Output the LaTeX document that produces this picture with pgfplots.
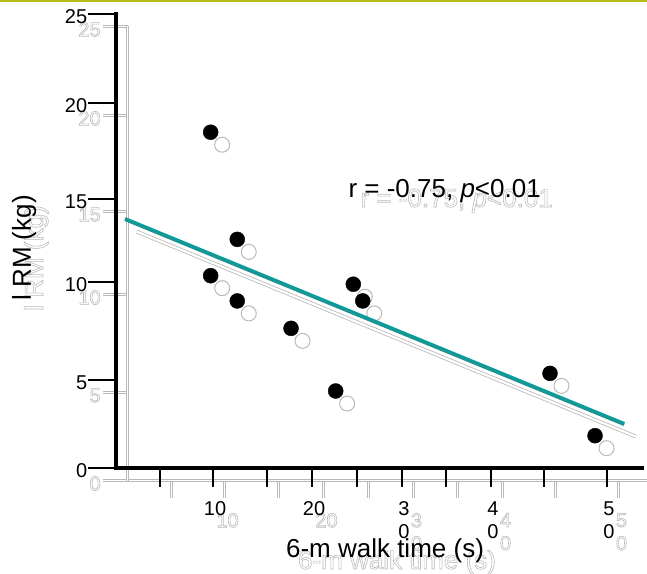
\documentclass[border=0pt]{standalone}
\usepackage{pgfplots}
\pgfplotsset{compat=1.18}
\usepackage{fontspec}
\setmainfont{Liberation Sans}

\definecolor{shade}{RGB}{185,185,185}
\definecolor{fitline}{RGB}{18,152,150}
\definecolor{topbar}{RGB}{181,189,23}

% outlined (hollow) glyphs: PDF text render mode 1
\newcommand\hollowon{\special{pdf:literal direct 1 Tr 0.6 w}}
\newcommand\hollowoff{\special{pdf:literal direct 0 Tr}}
\newcommand\hollow[1]{\hollowon#1\hollowoff}

\pgfplotstableread{
x     y
9.61  18.49
12.31 12.59
9.61  10.59
12.31 9.20
17.77 7.69
24.09 10.12
25.05 9.20
22.30 4.24
44.06 5.21
48.63 1.78
}\walkdata

\pgfplotsset{
  walkaxis/.style={
    scale only axis, height=454pt,
    ymin=0, ymax=25,
    axis lines*=left,
    tick align=outside,
    xtick={4.47,9.85,15.33,19.90,24.47,29.04,33.50,38.07,43.45,49.85},
    xticklabels={,10,,20,,{3\\0},,{4\\0},,{5\\0}},
    ytick={0,4.85,10.24,14.81,20.10,25},
    yticklabels={0,5,10,15,20,25},
    ticklabel style={font=\fontsize{20}{23}\selectfont},
    xticklabel style={align=center},
    clip=false,
  }
}

\begin{document}
\begin{tikzpicture}[x=1pt,y=1pt]
\useasboundingbox (0,0) rectangle (647,573);
\draw[topbar, line width=2pt] (0,572) -- (647,572);

% offset outlined copy of the plot
\begin{axis}[walkaxis,
  at={(127.5pt,92.5pt)}, anchor=south west,
  width=519.5pt, xmin=0, xmax=52.74,
  axis line style={-, draw=shade, line width=0.9pt, double=white, double distance=1.8pt},
  xtick style={draw=shade, line width=0.6pt, double=white, double distance=1.2pt, /pgfplots/major tick length=17pt},
  ytick style={draw=shade, line width=0.6pt, double=white, double distance=1.2pt, /pgfplots/major tick length=25pt},
  ticklabel style={text=shade, execute at begin node=\hollowon, execute at end node=\hollowoff},
  yticklabel style={xshift=-19pt, yshift=-3pt},
  xticklabel style={yshift=-25pt, xshift=3pt},
]
\addplot[draw=shade, line width=0.8pt, double=white, double distance=2.2pt, mark=none]
  coordinates {(0.91,13.71) (51.6,2.42)};
\addplot[only marks, mark=*, mark size=7.5pt,
  mark options={draw=shade, fill=white, line width=1pt}] table[x=x, y=y] {\walkdata};
\end{axis}

% main plot
\begin{axis}[walkaxis,
  at={(116pt,105pt)}, anchor=south west,
  width=526pt, xmin=0, xmax=53.4,
  axis line style={-, black, line width=3.3pt, line cap=rect},
  xtick style={black, line width=1.6pt, /pgfplots/major tick length=19pt},
  ytick style={black, line width=1.6pt, /pgfplots/major tick length=28pt},
  yticklabel style={xshift=-21pt, yshift=-3pt},
  xticklabel style={yshift=-26pt, xshift=2pt},
]
\addplot[fitline, line width=4pt, mark=none]
  coordinates {(0.91,13.71) (51.6,2.42)};
\addplot[only marks, mark=*, mark size=7.5pt, black] table[x=x, y=y] {\walkdata};
\end{axis}

\node[anchor=base west, text=shade, font=\fontsize{26}{30}\selectfont]
  at (357,366) {\hollow{r = -0.75, \textit{p}<0.01}};
\node[anchor=base west, font=\fontsize{26}{30}\selectfont]
  at (345,375) {r = -0.75, \textit{p}<0.01};

\node[anchor=base, text=shade, font=\fontsize{26}{30}\selectfont]
  at (397,4) {\hollow{6-m walk time (s)}};
\node[anchor=base, font=\fontsize{26}{30}\selectfont]
  at (385,16) {6-m walk time (s)};

\node[rotate=90, anchor=base, text=shade, font=\fontsize{26}{30}\selectfont]
  at (43,315) {\hollow{l RM (kg)}};
\node[rotate=90, anchor=base, font=\fontsize{26}{30}\selectfont]
  at (31,325) {l RM (kg)};
\end{tikzpicture}
\end{document}
